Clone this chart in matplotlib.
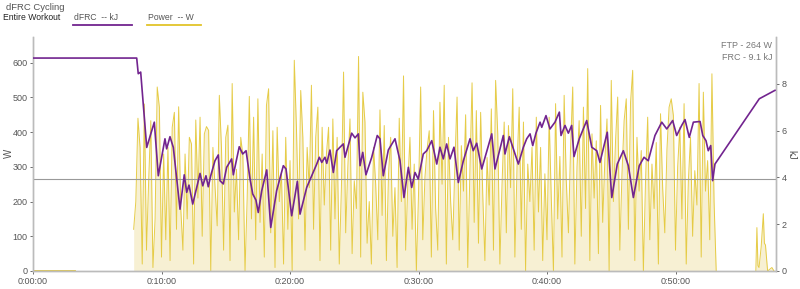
import numpy as np
import matplotlib
matplotlib.use("Agg")
import matplotlib.pyplot as plt
from matplotlib.ticker import FuncFormatter

plt.rcParams['font.family'] = ['Liberation Sans', 'DejaVu Sans']

# power (W), one sample every 10 s starting at 470 s
power_start_s = 470
power_step_s = 10
power_w = [
    120, 200, 440, 355, 20, 481, 60, 260, 433, 10,
    150, 530, 472, 40, 337, 90, 356, 30, 414, 457,
    120, 473, 180, 60, 337, 150, 385, 366, 20, 435,
    210, 443, 100, 395, 416, 405, 0, 356, 240, 130,
    506, 356, 60, 385, 420, 30, 540, 170, 293, 90,
    385, 332, 0, 210, 503, 150, 443, 90, 496, 140,
    337, 40, 477, 525, 110, 404, 10, 414, 200, 284,
    20, 385, 120, 318, 0, 607, 414, 150, 520, 385,
    60, 356, 240, 535, 120, 385, 472, 30, 414, 190,
    337, 414, 60, 438, 150, 385, 20, 240, 573, 110,
    300, 438, 50, 260, 180, 618, 40, 515, 429, 80,
    200, 20, 356, 250, 90, 464, 160, 419, 30, 280,
    385, 100, 240, 10, 440, 200, 562, 60, 250, 385,
    120, 308, 0, 220, 530, 90, 270, 351, 404, 40,
    462, 180, 60, 486, 250, 535, 20, 385, 200, 90,
    310, 501, 60, 361, 230, 450, 10, 290, 542, 140,
    462, 80, 457, 220, 30, 327, 190, 467, 60, 549,
    395, 20, 250, 429, 110, 419, 240, 525, 40, 300,
    472, 120, 429, 0, 308, 200, 356, 60, 443, 170,
    356, 30, 280, 90, 443, 210, 0, 482, 150, 330,
    40, 506, 260, 110, 356, 530, 20, 300, 433, 100,
    472, 180, 583, 30, 395, 210, 375, 50, 477, 140,
    320, 438, 0, 549, 200, 375, 501, 60, 280, 433,
    496, 120, 486, 578, 30, 385, 230, 347, 0, 260,
    443, 90, 308, 180, 370, 20, 453, 240, 110, 350,
    472, 496, 448, 60, 300, 414, 150, 482, 20, 260,
    385, 100, 289, 190, 540, 40, 515, 230, 318, 90,
    568, 200, 0,
]

# warm-up and cool-down bits of power
warmup_s = [0, 196]
warmup_w = [4, 4]
tail_s = [3375, 3380, 3385, 3390, 3400, 3410, 3415, 3420, 3430, 3440, 3450, 3460]
tail_w = [0, 125, 15, 10, 70, 165, 80, 75, 0, 5, 10, 0]

# dFRC (kJ) vs elapsed minutes
frc_min = [0, 8.07, 8.19, 8.38, 8.85, 9.44, 9.75, 10.27, 10.40, 10.66, 10.92,
           11.44, 11.77, 11.96, 12.14, 12.43, 12.68, 13.00, 13.21, 13.46, 13.64,
           13.83, 14.16, 14.42, 14.55, 14.81, 15.07, 15.46, 15.59, 16.05, 16.32,
           16.58, 16.89, 17.10, 17.35, 17.53, 17.80, 18.19, 18.50, 18.96, 19.48,
           19.69, 20.13, 20.57, 20.78, 21.30, 21.69, 22.08, 22.28, 22.47, 22.72,
           22.86, 23.11, 23.37, 23.63, 23.89, 24.15, 24.28, 24.80, 25.06, 25.32,
           25.45, 25.66, 25.91, 26.36, 26.79, 27.00, 27.26, 27.65, 28.17, 28.56,
           28.87, 29.21, 29.47, 29.73, 29.98, 30.37, 30.64, 31.03, 31.42, 31.67,
           31.93, 32.19, 32.45, 32.76, 33.10, 33.49, 34.01, 34.26, 34.53, 34.92,
           35.70, 35.95, 36.60, 36.73, 37.07, 37.38, 37.77, 38.16, 38.42, 38.68,
           38.89, 39.14, 39.46, 39.59, 39.92, 40.23, 40.62, 40.96, 41.09, 41.40,
           41.66, 41.92, 42.10, 42.51, 43.09, 43.48, 43.87, 44.12, 44.69, 45.04,
           45.47, 45.94, 46.33, 46.72, 47.18, 47.55, 47.88, 48.40, 48.93, 49.32,
           49.78, 50.09, 50.48, 50.74, 51.07, 51.39, 51.91, 52.12, 52.37, 52.55,
           52.74, 52.89, 53.07, 56.52, 57.74]
frc_kj = [9.1, 9.1, 8.43, 8.50, 5.28, 6.36, 4.07, 5.65, 5.22, 5.74, 5.28,
          2.64, 4.11, 3.36, 3.67, 2.86, 3.43, 4.17, 3.64, 4.07, 3.60,
          4.07, 4.71, 4.96, 3.86, 3.72, 4.43, 4.79, 4.11, 5.31, 5.00,
          5.14, 3.93, 3.29, 3.03, 2.50, 3.43, 4.32, 1.86, 3.43, 4.50,
          4.36, 2.36, 3.83, 2.43, 3.57, 4.07, 4.57, 4.86, 4.64, 4.86,
          4.60, 5.17, 4.21, 5.14, 5.29, 5.43, 4.86, 5.89, 5.69, 5.86,
          4.50, 5.07, 4.11, 4.86, 5.79, 5.65, 4.07, 5.17, 5.65, 4.71,
          3.14, 4.43, 3.57, 4.21, 3.93, 5.00, 5.14, 5.57, 4.57, 5.29,
          4.79, 5.43, 4.79, 5.29, 3.78, 4.71, 5.65, 5.14, 5.46, 4.36,
          5.86, 4.36, 5.79, 5.00, 5.74, 5.22, 4.57, 5.29, 5.65, 5.86,
          5.36, 5.89, 6.36, 6.14, 6.64, 6.07, 6.36, 6.79, 5.79, 6.22,
          5.89, 6.22, 4.89, 5.65, 6.43, 5.29, 5.14, 4.64, 5.93, 3.14,
          4.57, 5.14, 4.50, 3.14, 4.50, 4.86, 4.71, 5.79, 6.36, 6.07,
          6.43, 5.79, 6.22, 6.47, 5.71, 6.36, 6.39, 5.79, 5.57, 5.14,
          5.36, 3.86, 4.57, 7.36, 7.72]

ftp_w = 264
frc_total = 9.1

purple = '#72248f'
gold = '#e2c42a'
grey = '#555555'

power_min = (power_start_s + power_step_s * np.arange(len(power_w))) / 60.0
warm_min = np.array(warmup_s) / 60.0
tail_min = np.array(tail_s) / 60.0

fig = plt.figure(figsize=(8, 2.89), dpi=100)
ax = fig.add_axes([0.04125, 0.0623, 0.92875, 0.8097])

for xs, ys in [(warm_min, warmup_w), (power_min, power_w), (tail_min, tail_w)]:
    ax.fill_between(xs, ys, 0, color='#f7f0d3', linewidth=0, zorder=1)
    ax.plot(xs, ys, color=gold, lw=0.7, alpha=0.85, zorder=2)

ax.axhline(ftp_w, color='#999999', lw=0.8, zorder=3)

ax.set_xlim(0, 57.82)
ax.set_ylim(0, 674)
ax.set_yticks(range(0, 601, 100))
ax.set_xticks(range(0, 51, 10))
ax.xaxis.set_major_formatter(FuncFormatter(
    lambda v, p: "%d:%02d:%02d" % (int(v) // 60, int(v) % 60, int(round(v * 60)) % 60)))

ax2 = ax.twinx()
ax2.plot(frc_min, frc_kj, color=purple, lw=1.2, zorder=5)
ax2.set_ylim(0, 10)
ax2.set_yticks(range(0, 9, 2))

for a in (ax, ax2):
    a.tick_params(labelsize=6.5, colors=grey, length=2.5, width=0.6, pad=1.5)
    a.spines['top'].set_visible(False)
    for s in ('left', 'right', 'bottom'):
        a.spines[s].set_color('#bbbbbb')
        a.spines[s].set_linewidth(1.0)

# axis titles as figure text so they don't get clipped
fig.text(9 / 800, 1 - 153 / 289, "W", fontsize=7, color=grey, rotation=90, ha='center', va='center')
fig.text(791 / 800, 1 - 155 / 289, "kJ", fontsize=7, color=grey, rotation=270, ha='center', va='center')

# header texts
fig.text(6 / 800, 1 - 7 / 289, "dFRC Cycling", fontsize=6.8, color=grey, va='center')
fig.text(3 / 800, 1 - 18 / 289, "Entire Workout", fontsize=6.2, color='#222222', va='center')
fig.text(74 / 800, 1 - 18 / 289, "dFRC  -- kJ", fontsize=6.2, color=grey, va='center')
fig.text(148 / 800, 1 - 18 / 289, "Power  -- W", fontsize=6.2, color=grey, va='center')
fig.add_artist(plt.Line2D([73 / 800, 132 / 800], [1 - 24.5 / 289] * 2, color=purple, lw=1.3))
fig.add_artist(plt.Line2D([147 / 800, 201 / 800], [1 - 24.5 / 289] * 2, color=gold, lw=1.3))

fig.text(772 / 800, 1 - 46 / 289, "FTP - %d W" % ftp_w, fontsize=6.5, color='#777777', ha='right', va='center')
fig.text(772 / 800, 1 - 57 / 289, "FRC - %.1f kJ" % frc_total, fontsize=6.5, color='#777777', ha='right', va='center')

fig.savefig("out.png", dpi=100)
